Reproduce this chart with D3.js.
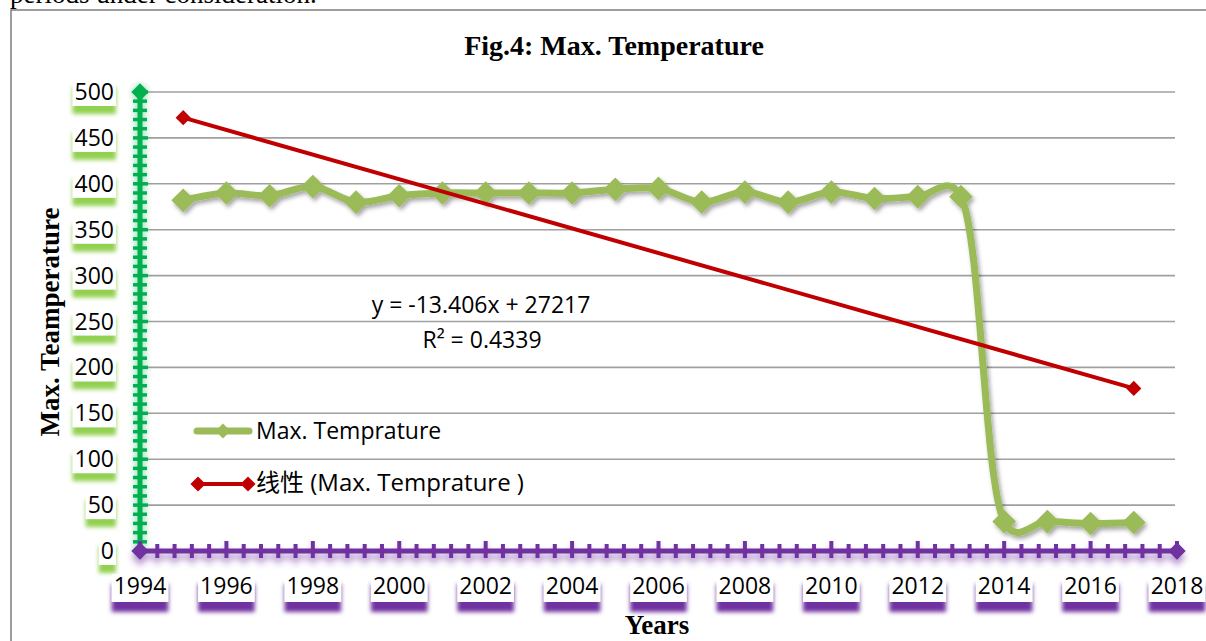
<!DOCTYPE html>
<meta charset="utf-8">
<script src="https://d3js.org/d3.v7.min.js"></script>
<style>
  body { margin: 0; background: #fff; }
  svg { display: block; }
</style>
<div id="chart"></div>
<script>
// data
var years   = [1995,1996,1997,1998,1999,2000,2001,2002,2003,2004,2005,2006,
               2007,2008,2009,2010,2011,2012,2013,2014,2015,2016,2017];
var maxTemp = [382,390,387,397,380,387,390,390,390,390,394,395,
               380,391,380,391,384,386,386,32,32,30,31];
var yTicks  = [0,50,100,150,200,250,300,350,400,450,500];
var xTicks  = [1994,1996,1998,2000,2002,2004,2006,2008,2010,2012,2014,2016,2018];
// linear trend as printed on the chart
var trendSlope = -13.406, trendIntercept = 27217;
var trendYears = [1995, 2017];
var eqLines = ["y = -13.406x + 27217", "R² = 0.4339"];

var W = 1206, H = 641;
var svg = d3.select("#chart").append("svg").attr("width", W).attr("height", H);

var defs = svg.append("defs");
function shadow(id, dx, dy, sd, col, op) {
  defs.append("filter").attr("id", id)
      .attr("x", "-30%").attr("y", "-50%").attr("width", "160%").attr("height", "220%")
    .append("feDropShadow")
      .attr("dx", dx).attr("dy", dy).attr("stdDeviation", sd)
      .attr("flood-color", col).attr("flood-opacity", op);
}
shadow("lineShadow", 2, 3, 2, "#000", 0.35);
shadow("greenBox", 0, 8, 2, "#92D050", 1);
shadow("purpleBox", 0, 10, 2, "#7030A0", 1);
shadow("purpleGlow", 0, 6, 3, "#7030A0", 0.5);
var glow = defs.append("filter").attr("id", "greenGlow")
  .attr("x", "-200%").attr("y", "-10%").attr("width", "500%").attr("height", "120%");
glow.append("feGaussianBlur").attr("in", "SourceGraphic").attr("stdDeviation", 3).attr("result", "b");
glow.append("feComponentTransfer").attr("in", "b").attr("result", "b2")
  .append("feFuncA").attr("type", "linear").attr("slope", 0.45);
var gm = glow.append("feMerge");
gm.append("feMergeNode").attr("in", "b2");
gm.append("feMergeNode").attr("in", "SourceGraphic");

var serif = "Liberation Serif, Times New Roman, serif";
var labelFont = "Open Sans, Carlito, Calibri, sans-serif";

// text above the chart frame (page text cut off)
svg.append("text").attr("x", 10).attr("y", 3)
  .style("font-family", serif).style("font-size", "27px")
  .text("periods under consideration.");

// chart frame
svg.append("rect").attr("x", 11).attr("y", 10).attr("width", W).attr("height", H)
  .attr("fill", "none").attr("stroke", "#7f7f7f").attr("stroke-width", 1.5);

var x = d3.scaleLinear().domain([1994, 2018]).range([140, 1177]);
var y = d3.scaleLinear().domain([0, 500]).range([551, 92]);

// title
svg.append("text").attr("x", 614).attr("y", 55).attr("text-anchor", "middle")
  .style("font-family", serif).style("font-size", "28px").style("font-weight", "bold")
  .text("Fig.4: Max. Temperature");

// gridlines
svg.append("g").selectAll("line").data(yTicks.filter(function(d){ return d > 0; }))
  .enter().append("line")
    .attr("x1", 146).attr("x2", 1175)
    .attr("y1", function(d){ return y(d); }).attr("y2", function(d){ return y(d); })
    .attr("stroke", "#a0a0a0").attr("stroke-width", 1.6);

// y tick labels with white box + green shadow
var yl = svg.append("g").selectAll("g").data(yTicks).enter().append("g");
yl.each(function(d) {
  var g = d3.select(this);
  var r = g.append("rect");
  var t = g.append("text").attr("x", 114).attr("y", y(d) + 8).attr("text-anchor", "end")
    .style("font-family", labelFont).style("font-size", "23px").style("fill", "#000").text(d);
  var bb = t.node().getBBox();
  r.attr("x", bb.x - 2).attr("y", y(d) - 13).attr("width", bb.width + 4).attr("height", 27)
   .attr("fill", "#fff").attr("filter", "url(#greenBox)");
});

// x tick labels with white box + purple shadow
var xl = svg.append("g").selectAll("g").data(xTicks).enter().append("g");
xl.each(function(d) {
  var g = d3.select(this);
  var r = g.append("rect");
  var t = g.append("text").attr("x", x(d)).attr("y", 594).attr("text-anchor", "middle")
    .style("font-family", labelFont).style("font-size", "23px").style("fill", "#000").text(d);
  var bb = t.node().getBBox();
  r.attr("x", bb.x - 2).attr("y", 574).attr("width", bb.width + 4).attr("height", 28)
   .attr("fill", "#fff").attr("filter", "url(#purpleBox)");
});

function diamond(sel, cx, cy, size, col) {
  sel.append("path")
    .attr("d", d3.symbol().type(d3.symbolSquare).size(size)())
    .attr("transform", "translate(" + cx + "," + cy + ") rotate(45)")
    .attr("fill", col);
}

// y axis (green)
var ya = svg.append("g").attr("filter", "url(#greenGlow)");
ya.append("line").attr("x1", x(1994)).attr("x2", x(1994))
  .attr("y1", y(500)).attr("y2", y(0)).attr("stroke", "#00B050").attr("stroke-width", 5);
ya.selectAll("line.t").data(d3.range(0, 501, 10)).enter().append("line").attr("class", "t")
  .attr("x1", function(d){ return x(1994) - 7; })
  .attr("x2", function(d){ return x(1994) + (d % 50 === 0 ? 8 : 7); })
  .attr("y1", function(d){ return y(d); }).attr("y2", function(d){ return y(d); })
  .attr("stroke", "#00B050").attr("stroke-width", 3.5);
diamond(ya, x(1994), y(500), 150, "#00B050");

// x axis (purple)
var xa = svg.append("g").attr("filter", "url(#purpleGlow)");
xa.append("line").attr("x1", x(1994) - 4).attr("x2", x(2018))
  .attr("y1", y(0)).attr("y2", y(0)).attr("stroke", "#7030A0").attr("stroke-width", 5);
var minorX = d3.range(0, 61).map(function(i){ return 1994 + i * 0.4; });
xa.selectAll("line.t").data(minorX).enter().append("line").attr("class", "t")
  .attr("x1", function(d){ return x(d); }).attr("x2", function(d){ return x(d); })
  .attr("y1", function(d, i){ return y(0) - (i % 5 === 0 ? 10 : 7); })
  .attr("y2", function(d){ return y(0) + 7; })
  .attr("stroke", "#7030A0").attr("stroke-width", 4);
diamond(xa, x(1994), y(0), 150, "#7030A0");
diamond(xa, x(2018), y(0), 150, "#7030A0");

// axis titles
svg.append("text").attr("transform", "translate(59,322) rotate(-90)").attr("text-anchor", "middle")
  .style("font-family", serif).style("font-size", "27px").style("font-weight", "bold")
  .text("Max. Teamperature");
svg.append("text").attr("x", 657).attr("y", 634).attr("text-anchor", "middle")
  .style("font-family", serif).style("font-size", "27px").style("font-weight", "bold")
  .text("Years");

// data series (smoothed, with shadow)
var series = years.map(function(d, i){ return [d, maxTemp[i]]; });
var line = d3.line().curve(d3.curveCatmullRom.alpha(0.25))
  .x(function(d){ return x(d[0]); }).y(function(d){ return y(d[1]); });
var sg = svg.append("g").attr("filter", "url(#lineShadow)");
sg.append("path").datum(series).attr("d", line)
  .attr("fill", "none").attr("stroke", "#9BBB59").attr("stroke-width", 7)
  .attr("stroke-linejoin", "round").attr("stroke-linecap", "round");
series.forEach(function(d){ diamond(sg, x(d[0]), y(d[1]), 280, "#9BBB59"); });

// trend line
var trend = trendYears.map(function(yr){ return [yr, trendSlope * yr + trendIntercept]; });
var tg = svg.append("g");
tg.append("path").datum(trend)
  .attr("d", d3.line().x(function(d){ return x(d[0]); }).y(function(d){ return y(d[1]); }))
  .attr("stroke", "#C00000").attr("stroke-width", 4).attr("fill", "none");
trend.forEach(function(d){ diamond(tg, x(d[0]), y(d[1]), 115, "#C00000"); });

// equation label
svg.append("text").attr("x", 481).attr("y", 313).attr("text-anchor", "middle")
  .style("font-family", labelFont).style("font-size", "23px").text(eqLines[0]);
svg.append("text").attr("x", 482).attr("y", 348).attr("text-anchor", "middle")
  .style("font-family", labelFont).style("font-size", "23px").text(eqLines[1]);

// legend
var lg = svg.append("g");
lg.append("line").attr("x1", 197).attr("x2", 249).attr("y1", 431).attr("y2", 431)
  .attr("stroke", "#9BBB59").attr("stroke-width", 7).attr("stroke-linecap", "round");
diamond(lg, 223, 431, 110, "#9BBB59");
lg.append("text").attr("x", 256).attr("y", 439)
  .style("font-family", labelFont).style("font-size", "23px").text("Max. Temprature");
lg.append("line").attr("x1", 198).attr("x2", 248).attr("y1", 484).attr("y2", 484)
  .attr("stroke", "#C00000").attr("stroke-width", 4);
diamond(lg, 198, 484, 115, "#C00000");
diamond(lg, 248, 484, 115, "#C00000");
lg.append("text").attr("x", 256).attr("y", 491)
  .style("font-family", labelFont + ", Noto Sans CJK SC").style("font-size", "24px")
  .text("线性 (Max. Temprature )");
</script>
